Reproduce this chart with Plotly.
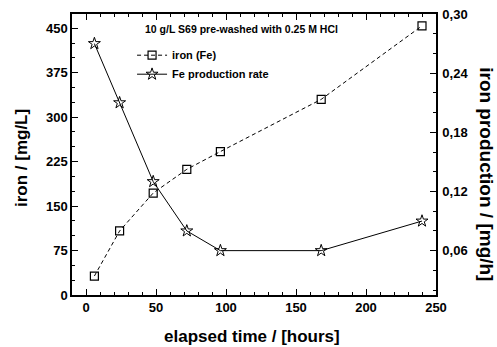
import plotly.graph_objects as go

time_h = [6, 24, 48, 72, 96, 168, 240]
iron_mg_L = [32, 108, 172, 212, 242, 330, 454]
rate_mg_h = [0.270, 0.210, 0.130, 0.080, 0.060, 0.060, 0.090]

x_ticks = [0, 50, 100, 150, 200, 250]
left_ticks = [0, 75, 150, 225, 300, 375, 450]
right_ticks = [0.06, 0.12, 0.18, 0.24, 0.30]
right_tick_labels = ["0,06", "0,12", "0,18", "0,24", "0,30"]

title_text = "10 g/L S69 pre-washed with 0.25 M HCl"
x_title = "elapsed time / [hours]"
left_title = "iron / [mg/L]"
right_title = "iron production / [mg/h]"

FONT = "Liberation Sans"

fig = go.Figure()
fig.add_trace(go.Scatter(
    x=time_h, y=iron_mg_L, name="iron (Fe)", mode="lines+markers",
    line=dict(color="black", width=1, dash="4px,3px"),
    marker=dict(symbol="square-open", size=8, color="black", line=dict(width=1.2)),
    yaxis="y"))
fig.add_trace(go.Scatter(
    x=time_h, y=rate_mg_h, name="Fe production rate", mode="lines+markers",
    line=dict(color="black", width=1),
    marker=dict(symbol="star-open", size=9, color="black", line=dict(width=1)),
    yaxis="y2"))

tickfont = dict(family=FONT, size=13, color="black", weight="bold")

fig.update_layout(
    width=497, height=347,
    margin=dict(l=72, r=61, t=14, b=52, autoexpand=False),
    paper_bgcolor="white", plot_bgcolor="white",
    showlegend=True,
    legend=dict(x=0.165, y=0.905, xanchor="left", yanchor="top",
                font=dict(family=FONT, size=11, color="black", weight="bold"),
                bgcolor="rgba(0,0,0,0)", tracegroupgap=0, itemwidth=30),
    xaxis=dict(range=[-10, 250], tickvals=x_ticks, ticks="inside", ticklen=6,
               tickwidth=1, tickcolor="black", automargin=False,
               minor=dict(dtick=10, ticks="inside", ticklen=3, tickcolor="black"),
               showline=True, linecolor="black", linewidth=1.5, mirror="ticks",
               showgrid=False, zeroline=False, tickfont=tickfont),
    yaxis=dict(range=[0, 474], tickvals=left_ticks, ticks="inside", ticklen=6,
               tickwidth=1, tickcolor="black", automargin=False,
               minor=dict(dtick=25, ticks="inside", ticklen=3, tickcolor="black"),
               showline=True, linecolor="black", linewidth=1.5,
               showgrid=False, zeroline=False, tickfont=tickfont),
    yaxis2=dict(range=[0.015, 0.30], overlaying="y", side="right",
                tickvals=right_ticks, ticktext=right_tick_labels,
                ticks="inside", ticklen=6, tickwidth=1, tickcolor="black",
                automargin=False, ticklabelstandoff=2,
                minor=dict(dtick=0.02, tick0=0, ticks="inside", ticklen=3, tickcolor="black"),
                showline=True, linecolor="black", linewidth=1.5,
                showgrid=False, zeroline=False, tickfont=tickfont),
    annotations=[
        dict(text=title_text, xref="paper", yref="paper", x=0.465, y=0.945,
             xanchor="center", yanchor="middle", showarrow=False,
             font=dict(family=FONT, size=10.5, color="black", weight="bold")),
        dict(text=x_title, xref="paper", yref="paper", x=0.4945, y=-0.146,
             xanchor="center", yanchor="middle", showarrow=False,
             font=dict(family=FONT, size=17, color="black", weight="bold")),
        dict(text=left_title, xref="paper", yref="paper", x=-0.14, y=0.4875,
             xanchor="center", yanchor="middle", showarrow=False, textangle=-90,
             font=dict(family=FONT, size=17, color="black", weight="bold")),
        dict(text=right_title, xref="paper", yref="paper", x=1.14, y=0.43,
             xanchor="center", yanchor="middle", showarrow=False, textangle=90,
             font=dict(family=FONT, size=19, color="black", weight="bold")),
    ],
)

fig.write_html("out.html", config={"displayModeBar": False},
               post_script="document.body.style.margin='0';")
